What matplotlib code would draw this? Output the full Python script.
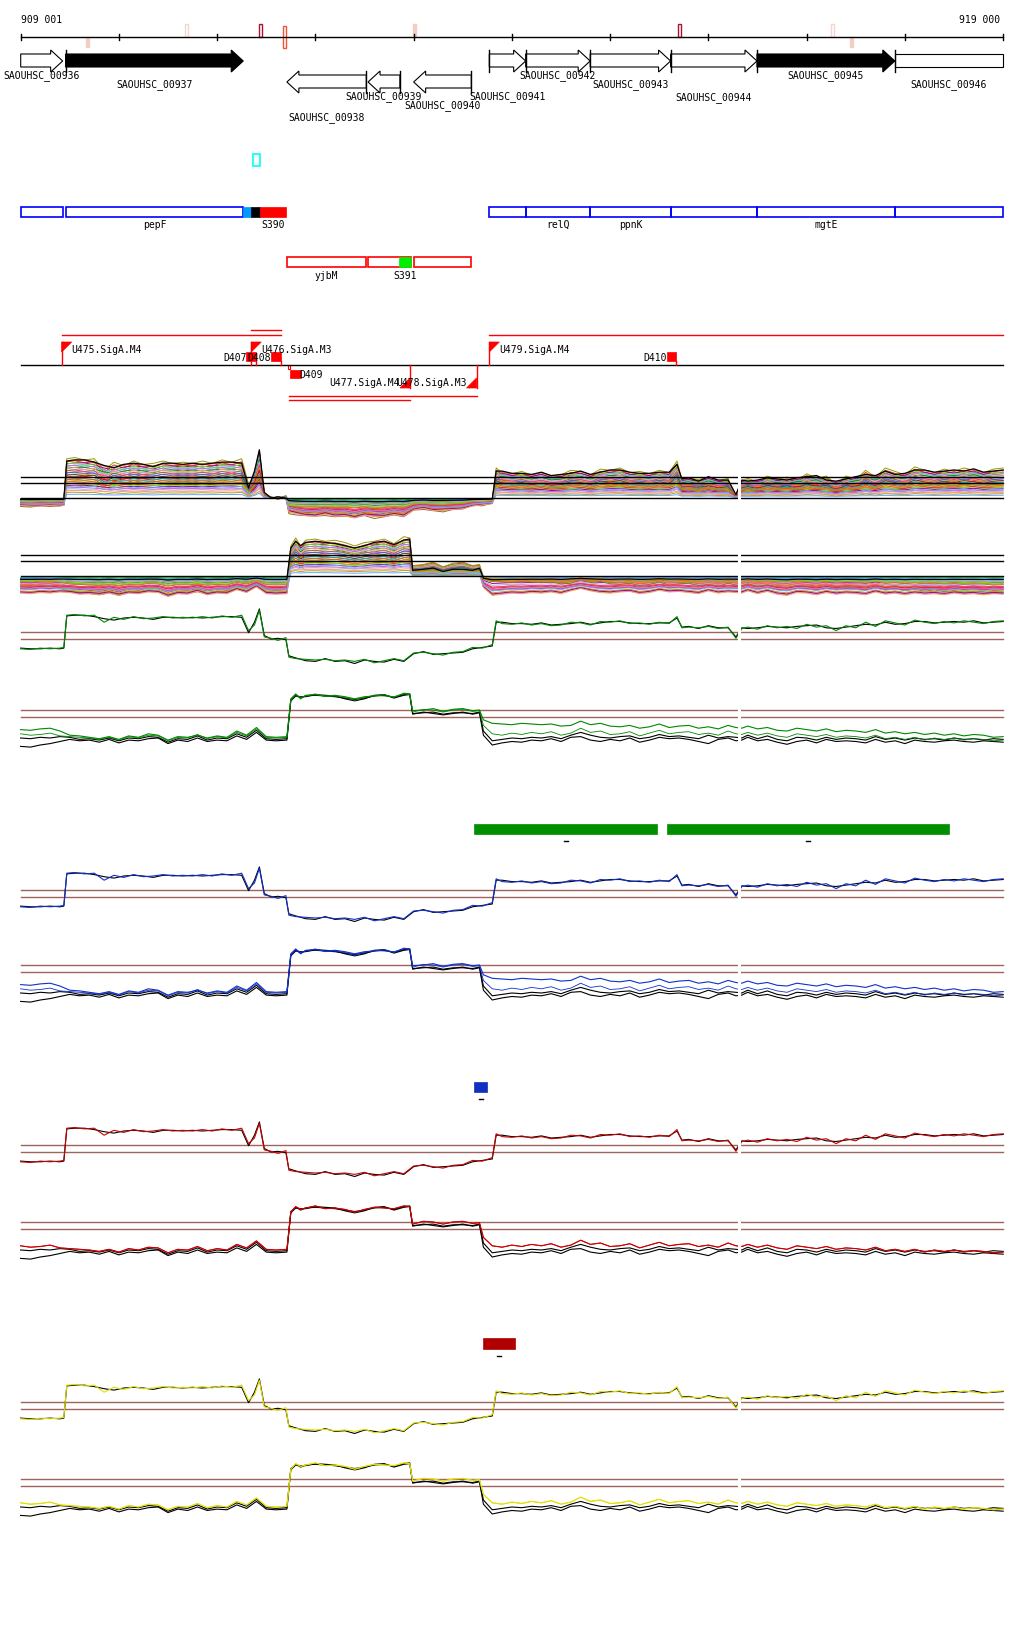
import numpy as np
import matplotlib
matplotlib.use('Agg')
import matplotlib.pyplot as plt
from matplotlib.patches import Polygon, Rectangle

# ---- data -------------------------------------------------------------
win_start, win_end = 909001, 919000
ruler_ticks = [909001, 910000, 911000, 912000, 913000, 914000, 915000,
               916000, 917000, 918000, 919000]

mark_pos = [909680, 910692, 911437, 911690, 913013, 915708, 917263, 917455]
mark_col = ['#f2cfc0', '#f4d6cc', '#aa1133', '#ee5533', '#f2cfc0', '#aa1133', '#f4d6cc', '#f2cfc0']
mark_kind = ['down', 'up', 'up', 'both', 'up', 'up', 'up', 'down']
mark_fill = [True, False, False, False, True, False, False, True]

gene_names = ['SAOUHSC_00936', 'SAOUHSC_00937', 'SAOUHSC_00938', 'SAOUHSC_00939',
              'SAOUHSC_00940', 'SAOUHSC_00941', 'SAOUHSC_00942', 'SAOUHSC_00943',
              'SAOUHSC_00944', 'SAOUHSC_00945', 'SAOUHSC_00946']
gene_start = [909001, 909458, 911710, 912536, 913000, 913770, 914140, 914797, 915615, 916494, 917897]
gene_end = [909428, 911266, 912518, 912860, 913587, 914140, 914797, 915615, 916494, 917897, 919000]
gene_strand = ['+', '+', '-', '-', '-', '+', '+', '+', '+', '+', '+']
gene_black = [False, True, False, False, False, False, False, False, False, True, False]
gene_label_row = [76, 85, 118, 97, 106, 97, 76, 85, 98, 76, 85]

# blue (forward) and red (reverse) transcript boxes
fwd_box_start = [909001, 909458, 913770, 914140, 914797, 915615, 916494, 917897]
fwd_box_end = [909428, 911266, 914140, 914797, 915615, 916494, 917897, 919000]
fwd_box_label = ['', 'pepF', '', 'relQ', 'ppnK', '', 'mgtE', '']
fwd_fill_start = [911266, 911347, 911440]
fwd_fill_end = [911347, 911440, 911700]
fwd_fill_col = ['#0099ff', '#000000', '#ff0000']
rev_box_start = [911710, 912536, 913000]
rev_box_end = [912518, 912970, 913587]
rev_box_label = ['yjbM', '', '']
rev_fill = (912850, 912970)

# promoters / terminators
tss_fwd_pos = [909418, 911347, 913770]
tss_fwd_name = ['U475.SigA.M4', 'U476.SigA.M3', 'U479.SigA.M4']
tss_rev_pos = [912963, 913640]
tss_rev_name = ['U477.SigA.M4', 'U478.SigA.M3']
term_fwd_start = [911298, 911549, 915577]
term_fwd_end = [911400, 911651, 915668]
term_fwd_name = ['D407', 'D408', 'D410']
term_rev_start = [911740]
term_rev_end = [911850]
term_rev_name = ['D409']
operon_fwd = [(909418, 911651), (913770, 919000)]
operon_fwd_short = [(911347, 911651)]
operon_rev = [(911730, 913640)]
operon_rev_short = [(911730, 912963)]

gap_pos = 916310

# expression profiles (kb from 909 000); condition 1
pos1 = [0.00, 0.10, 0.20, 0.30, 0.40, 0.44, 0.47, 0.55, 0.65, 0.75,
        0.85, 0.95, 1.05, 1.15, 1.25, 1.35, 1.45, 1.55, 1.65, 1.75,
        1.85, 1.95, 2.05, 2.15, 2.25, 2.32, 2.38, 2.43, 2.48, 2.55,
        2.62, 2.70, 2.73, 2.80, 2.90, 3.00, 3.10, 3.20, 3.30, 3.40,
        3.50, 3.60, 3.70, 3.80, 3.90, 4.00, 4.10, 4.20, 4.30, 4.40,
        4.50, 4.60, 4.70, 4.80, 4.84, 4.90, 5.00, 5.10, 5.20, 5.30,
        5.40, 5.50, 5.60, 5.70, 5.80, 5.90, 6.00, 6.10, 6.20, 6.30,
        6.40, 6.50, 6.60, 6.68, 6.73, 6.80, 6.90, 7.00, 7.10, 7.20,
        7.28, 7.34, 7.40, 7.50, 7.60, 7.70, 7.80, 7.90, 8.00, 8.10,
        8.20, 8.30, 8.40, 8.50, 8.60, 8.70, 8.80, 8.90, 9.00, 9.10,
        9.20, 9.30, 9.40, 9.50, 9.60, 9.70, 9.80, 9.90, 10.00]
c1_col = [-1.4, -1.5, -1.3, -1.4, -1.3, -1.2, 3.4, 3.5, 3.3, 3.4,
          2.4, 3.1, 2.8, 3.2, 2.9, 3.0, 3.2, 3.0, 3.1, 3.0,
          3.2, 3.0, 3.3, 3.1, 3.4, 1.2, 2.0, 4.1, 0.3, 0.1,
          -0.2, 0.2, -2.6, -2.8, -2.9, -3.0, -2.9, -3.1, -3.0, -3.2,
          -2.9, -3.4, -3.1, -2.8, -3.1, -2.0, -1.9, -2.1, -2.3, -1.9,
          -1.8, -1.2, -1.3, -0.8, 2.6, 2.2, 2.1, 2.3, 2.0, 2.2,
          1.9, 2.0, 2.4, 2.3, 2.0, 2.5, 2.4, 2.6, 2.2, 2.3,
          2.1, 2.4, 2.2, 3.2, 1.6, 1.7, 1.6, 1.8, 1.5, 1.7,
          0.1, 1.5, 1.7, 1.4, 1.9, 1.6, 1.8, 1.5, 2.1, 1.7,
          1.9, 1.2, 1.9, 1.6, 2.4, 1.8, 2.6, 2.3, 2.0, 2.7,
          2.4, 2.2, 2.5, 2.3, 2.6, 2.4, 2.2, 2.5, 2.6]
c1_blk = [-1.3, -1.4, -1.4, -1.3, -1.4, -1.3, 3.3, 3.4, 3.4, 3.2,
          2.9, 2.7, 3.0, 3.1, 3.0, 2.8, 3.1, 3.1, 3.0, 3.1,
          3.0, 3.1, 3.2, 3.2, 3.1, 0.9, 2.4, 4.3, 0.5, 0.0,
          0.1, -0.1, -2.4, -2.7, -3.1, -3.2, -2.8, -3.2, -3.1, -3.5,
          -3.0, -3.2, -3.3, -2.9, -3.2, -2.1, -1.8, -2.2, -2.1, -2.0,
          -1.9, -1.4, -1.2, -1.0, 2.4, 2.4, 2.2, 2.2, 2.1, 2.3,
          2.0, 2.1, 2.2, 2.4, 2.1, 2.3, 2.5, 2.5, 2.3, 2.2,
          2.2, 2.3, 2.3, 3.0, 1.7, 1.8, 1.5, 1.9, 1.6, 1.6,
          0.3, 1.6, 1.5, 1.6, 1.8, 1.7, 1.6, 1.8, 1.9, 2.0,
          1.6, 1.5, 1.7, 1.9, 2.1, 2.0, 2.4, 2.1, 2.2, 2.5,
          2.5, 2.3, 2.4, 2.5, 2.4, 2.6, 2.3, 2.4, 2.5]

# condition 2
pos2 = [0.00, 0.10, 0.20, 0.30, 0.40, 0.50, 0.60, 0.70, 0.80, 0.90,
        1.00, 1.10, 1.20, 1.30, 1.40, 1.50, 1.60, 1.70, 1.80, 1.90,
        2.00, 2.10, 2.20, 2.30, 2.40, 2.50, 2.60, 2.71, 2.75, 2.80,
        2.85, 2.90, 3.00, 3.10, 3.20, 3.30, 3.40, 3.50, 3.60, 3.70,
        3.80, 3.90, 3.96, 3.99, 4.10, 4.20, 4.30, 4.40, 4.50, 4.60,
        4.67, 4.71, 4.80, 4.90, 5.00, 5.10, 5.20, 5.30, 5.40, 5.50,
        5.60, 5.70, 5.80, 5.90, 6.00, 6.10, 6.20, 6.30, 6.40, 6.50,
        6.60, 6.70, 6.80, 6.90, 7.00, 7.10, 7.20, 7.28, 7.34, 7.40,
        7.50, 7.60, 7.70, 7.80, 7.90, 8.00, 8.10, 8.20, 8.30, 8.40,
        8.50, 8.60, 8.70, 8.80, 8.90, 9.00, 9.10, 9.20, 9.30, 9.40,
        9.50, 9.60, 9.70, 9.80, 9.90, 10.00]
c2_col = [-1.8, -1.9, -1.7, -1.6, -2.0, -2.6, -2.7, -2.9, -3.1, -2.8,
          -3.2, -2.7, -2.9, -2.4, -2.6, -3.3, -2.8, -2.9, -2.6, -3.0,
          -2.7, -2.9, -2.0, -2.6, -1.5, -2.8, -2.9, -2.8, 2.6, 3.3,
          2.6, 3.1, 3.2, 3.0, 3.1, 2.9, 2.6, 2.9, 3.0, 3.2,
          2.8, 3.4, 3.3, 0.9, 1.0, 1.2, 0.8, 1.1, 1.2, 0.9,
          1.0, -0.4, -0.9, -1.0, -1.1, -0.9, -1.0, -1.1, -1.0, -1.3,
          -1.2, -0.6, -1.1, -0.9, -1.3, -1.4, -1.2, -1.6, -1.4, -1.0,
          -1.5, -1.3, -1.2, -1.6, -1.4, -1.7, -1.2, -1.5, -1.6, -1.3,
          -1.7, -1.5, -1.9, -2.0, -1.6, -1.8, -2.0, -1.7, -2.1, -1.9,
          -2.0, -2.2, -1.8, -2.3, -2.1, -2.4, -2.2, -2.5, -2.3, -2.6,
          -2.4, -2.7, -2.5, -2.6, -2.9, -2.8]
c2_alt = [-2.4, -2.6, -2.5, -2.3, -2.7, -2.8, -2.9, -3.0, -3.2, -2.9,
          -3.3, -2.8, -3.0, -2.6, -2.7, -3.4, -2.9, -3.0, -2.5, -3.1,
          -2.8, -3.0, -2.2, -2.7, -1.7, -2.9, -3.0, -2.9, 2.4, 3.2,
          2.8, 3.0, 3.3, 2.9, 3.0, 2.8, 2.4, 2.8, 3.1, 3.0,
          2.9, 3.3, 3.2, 0.7, 1.1, 1.0, 0.7, 1.0, 1.1, 0.8,
          0.9, -1.2, -2.4, -2.6, -2.3, -2.5, -2.2, -2.4, -2.1, -2.6,
          -2.3, -1.6, -2.2, -2.0, -2.5, -2.4, -2.1, -2.7, -2.3, -1.9,
          -2.4, -2.2, -2.1, -2.5, -2.3, -2.6, -2.0, -2.4, -2.5, -2.2,
          -2.6, -2.3, -2.7, -2.9, -2.4, -2.6, -2.8, -2.5, -2.9, -2.7,
          -2.8, -3.0, -2.6, -3.1, -2.9, -3.2, -2.9, -3.3, -3.0, -3.2,
          -3.0, -3.3, -3.1, -3.2, -3.4, -3.3]
c2_blk = [-3.0, -3.1, -2.9, -3.0, -2.8, -2.9, -3.2, -3.1, -3.3, -3.0,
          -3.4, -3.0, -3.1, -2.8, -2.9, -3.6, -3.1, -3.2, -2.7, -3.3,
          -3.0, -3.1, -2.4, -2.9, -1.9, -3.1, -3.2, -3.1, 2.5, 3.1,
          2.7, 3.0, 3.1, 3.0, 2.9, 2.7, 2.5, 2.7, 3.0, 3.1,
          2.8, 3.2, 3.3, 0.5, 0.6, 0.7, 0.4, 0.6, 0.6, 0.5,
          0.7, -2.0, -3.4, -3.2, -3.0, -3.1, -2.9, -3.0, -2.8, -3.1,
          -2.6, -2.2, -2.6, -2.9, -3.0, -2.8, -2.7, -3.1, -2.9, -2.5,
          -2.8, -2.7, -2.9, -3.1, -2.6, -3.0, -2.8, -2.9, -3.0, -2.6,
          -3.1, -2.7, -3.2, -3.4, -2.9, -3.0, -3.3, -2.9, -3.2, -3.0,
          -3.1, -3.3, -2.8, -3.2, -3.0, -3.3, -3.0, -3.2, -3.1, -3.3,
          -3.0, -3.2, -3.1, -3.3, -3.1, -3.2]
c2_blk2 = [-4.2, -4.3, -4.0, -3.8, -3.5, -3.2, -3.4, -3.3, -3.6, -3.2,
           -3.7, -3.3, -3.4, -3.1, -3.0, -3.8, -3.3, -3.5, -3.0, -3.5,
           -3.3, -3.4, -2.7, -3.2, -2.2, -3.3, -3.4, -3.3, 2.3, 3.0,
           2.9, 2.9, 3.2, 3.1, 3.0, 2.6, 2.3, 2.6, 3.1, 3.2,
           2.7, 3.1, 3.2, 0.4, 0.7, 0.5, 0.3, 0.5, 0.7, 0.4,
           0.6, -2.6, -4.0, -3.7, -3.5, -3.6, -3.3, -3.4, -3.1, -3.5,
           -2.9, -2.8, -3.3, -3.5, -3.2, -3.4, -3.0, -3.6, -3.3, -2.9,
           -3.1, -3.0, -3.2, -3.5, -3.8, -3.2, -3.0, -3.4, -3.3, -2.9,
           -3.4, -3.2, -3.6, -3.9, -3.5, -3.3, -3.7, -3.2, -3.5, -3.4,
           -3.5, -3.7, -3.2, -3.6, -3.4, -3.8, -3.3, -3.5, -3.6, -3.4,
           -3.3, -3.5, -3.6, -3.4, -3.5, -3.6]

# per-sample levels of the many-sample tracks
sample_hi = [1.05, 1.0, 0.97, 0.94, 0.91, 0.88, 0.85, 0.82, 0.79, 0.76,
             0.73, 0.70, 0.67, 0.64, 0.61, 0.58, 0.55, 0.52, 0.49, 0.46,
             0.43, 0.40, 0.37, 0.34, 0.31, 0.28, 0.24, 0.20, 0.15, 0.1]
sample_lo = [0.1, 0.3, 0.45, 0.2, 0.5, 0.15, 0.35, 0.05, 0.4, 0.25,
             0.55, 0.3, 0.12, 0.45, 0.2, 0.38, 0.08, 0.5, 0.28, 0.15,
             0.42, 0.33, 0.22, 0.48, 0.1, 0.36, 0.18, 0.52, 0.26, 0.4]
sample_col = ['#999900', '#ff6633', '#cc3333', '#990099', '#66ee00', '#66aaff',
              '#cc66cc', '#009900', '#ff9966', '#aaaadd', '#996633', '#ff3399',
              '#3366cc', '#cc9900', '#444444', '#ff0000', '#00bbbb', '#888888',
              '#cc6600', '#999900', '#ff6633', '#cc3333', '#66ee00', '#990099',
              '#66aaff', '#cc66cc', '#aaaadd', '#ff9966', '#b0a030', '#66aaff']
black_lo = 0.1

# highlighted regions under condition tracks
green_bar_start = [913618, 915577]
green_bar_end = [915476, 918444]
blue_bar = (913618, 913749)
red_bar = (913709, 914032)

# ---- layout -----------------------------------------------------------
W, H = 1024, 1640
BPX = 9999 / 982.5          # bp per pixel
X0 = win_start - 20.7 * BPX
X1 = X0 + W * BPX
MONO = 'DejaVu Sans Mono'
FS = 7
BROWN = '#a0645f'

fig = plt.figure(figsize=(W / 100, H / 100), dpi=100, facecolor='white')
ax = fig.add_axes([0, 0, 1, 1])
ax.set_xlim(X0, X1)
ax.set_ylim(H, 0)
ax.axis('off')


def txt(x, y, s, ha='left', color='black'):
    ax.text(x, y, s, ha=ha, va='center', fontsize=FS, family=MONO, color=color)


def box(x0, x1, y0, y1, ec, fc='none', lw=1.0):
    ax.add_patch(Rectangle((x0, y0), x1 - x0, y1 - y0, ec=ec, fc=fc, lw=lw))


# ruler
ax.plot([win_start, win_end], [38, 38], color='black', lw=1)
for t in ruler_ticks:
    ax.plot([t, t], [35, 41], color='black', lw=1)
txt(win_start, 20, '909 001')
txt(win_end - 3 * BPX, 20, '919 000', ha='right')
yr = {'up': (25, 38), 'down': (38, 48), 'both': (27, 49)}
for p, c, k, f in zip(mark_pos, mark_col, mark_kind, mark_fill):
    y0, y1 = yr[k]
    box(p - 1.5 * BPX, p + 1.5 * BPX, y0, y1, ec=c, fc=c if f else 'white', lw=1)

# genes
hl = 12 * BPX
for name, s, e, st, blk, ly in zip(gene_names, gene_start, gene_end, gene_strand,
                                   gene_black, gene_label_row):
    if st == '+':
        b0, b1, h0, h1 = 55, 68, 51, 73
    else:
        b0, b1, h0, h1 = 76, 89, 72, 94
    m = (h0 + h1) / 2
    fc = 'black' if blk else 'white'
    L = min(hl, (e - s) * 0.5)
    if st == '+' and e >= win_end:
        verts = [(s, b0), (e, b0), (e, b1), (s, b1)]
    elif st == '+':
        verts = [(s, b0), (e - L, b0), (e - L, h0), (e, m), (e - L, h1), (e - L, b1), (s, b1)]
    else:
        verts = [(e, b0), (s + L, b0), (s + L, h0), (s, m), (s + L, h1), (s + L, b1), (e, b1)]
    ax.add_patch(Polygon(verts, closed=True, fc=fc, ec='black', lw=0.8))
    start = s if st == '+' else e
    if start > win_start:
        ax.plot([start, start], [h0, h1], color='black', lw=1)
    txt((s + e) / 2, ly, name, ha='center')

# small cyan feature
box(911368, 911440, 155, 167, ec='#00ffff', lw=1.2)

# forward transcript boxes
for s, e, lab in zip(fwd_box_start, fwd_box_end, fwd_box_label):
    box(s, e, 208, 218, ec='#0000ff', lw=1.2)
    if lab:
        txt((s + e) / 2, 225, lab, ha='center')
for s, e, c in zip(fwd_fill_start, fwd_fill_end, fwd_fill_col):
    box(s, e, 208, 218, ec=c, fc=c, lw=0.5)
txt(fwd_fill_end[-1] - 1.5 * BPX, 225, 'S390', ha='right')

# reverse transcript boxes
for s, e, lab in zip(rev_box_start, rev_box_end, rev_box_label):
    box(s, e, 258, 268, ec='#ff0000', lw=1.2)
    if lab:
        txt((s + e) / 2, 276, lab, ha='center')
box(rev_fill[0], rev_fill[1], 258, 268, ec='#00ee00', fc='#00ee00', lw=0.5)
txt((rev_fill[0] + rev_fill[1]) / 2, 276, 'S391', ha='center')

# promoter / terminator track
RED = '#ff0000'
ax.plot([win_start, win_end], [366, 366], color='black', lw=1)
for s, e in operon_fwd:
    ax.plot([s, e], [336, 336], color=RED, lw=1)
for s, e in operon_fwd_short:
    ax.plot([s, e], [331, 331], color=RED, lw=1)
for s, e in operon_rev:
    ax.plot([s, e], [397, 397], color=RED, lw=1)
for s, e in operon_rev_short:
    ax.plot([s, e], [401, 401], color=RED, lw=1)
for p, n in zip(tss_fwd_pos, tss_fwd_name):
    ax.plot([p, p], [343, 366], color=RED, lw=1)
    ax.add_patch(Polygon([(p, 343), (p + 10 * BPX, 343), (p, 353)], fc=RED, ec=RED, lw=0.5))
    txt(p + 10 * BPX, 350, n)
for p, n in zip(tss_rev_pos, tss_rev_name):
    ax.plot([p, p], [366, 389], color=RED, lw=1)
    ax.add_patch(Polygon([(p, 389), (p - 10 * BPX, 389), (p, 379)], fc=RED, ec=RED, lw=0.5))
    txt(p - 10 * BPX, 383, n, ha='right')
for s, e, n in zip(term_fwd_start, term_fwd_end, term_fwd_name):
    box(s, e, 353, 362, ec=RED, fc=RED, lw=0.5)
    ax.plot([e, e], [362, 366], color=RED, lw=1)
    txt(s, 358, n, ha='right')
for s, e, n in zip(term_rev_start, term_rev_end, term_rev_name):
    box(s, e, 371, 379, ec=RED, fc=RED, lw=0.5)
    box(s - 2 * BPX, s, 366, 370, ec=RED, lw=0.8)
    txt(e - 1 * BPX, 375, n)


# ---- data tracks ------------------------------------------------------
def track_ax(y0, s, lo=-6, hi=6):
    top = y0 - hi * s
    bot = y0 - lo * s
    a = fig.add_axes([0, 1 - bot / H, 1, (bot - top) / H])
    a.set_xlim(X0, X1)
    a.set_ylim(lo, hi)
    a.axis('off')
    a.patch.set_alpha(0)
    return a


def bp(pos):
    return 909000 + np.array(pos) * 1000


x1 = bp(pos1)
x2 = bp(pos2)

# many-sample tracks
for y0, xs, bases in [(499, x1, [c1_col, c1_blk]), (577, x2, [c2_col, c2_blk])]:
    s = 11
    a = track_ax(y0, s, -4, 5)
    for lvl in [0, 15, 21]:
        a.plot([win_start, win_end], [lvl / s] * 2, color='black', lw=1, zorder=3)
    for i, (fh, fl, c) in enumerate(zip(sample_hi, sample_lo, sample_col)):
        base = np.array(bases[i % 2])
        vals = np.where(base > 0, base * fh, base * fl)
        a.plot(xs, vals, color=c, lw=0.7, zorder=2)
    kb = np.array(bases[1])
    a.plot(xs, np.where(kb > 0, kb * 1.02, kb * black_lo), color='black', lw=0.9, zorder=4)
    a.axvline(gap_pos, color='white', lw=2.2, zorder=6)

track_colours = {'green': '#008800', 'blue': '#1030cc', 'red': '#cc0000', 'yellow': '#e0e000'}
line_tracks = [(640, 1, 'green'), (718, 2, 'green'), (898, 1, 'blue'), (973, 2, 'blue'),
               (1153, 1, 'red'), (1230, 2, 'red'), (1410, 1, 'yellow'), (1487, 2, 'yellow')]
for y0, cond, cname in line_tracks:
    col = track_colours[cname]
    a = track_ax(y0, 7)
    a.plot([win_start, win_end], [0, 0], color=BROWN, lw=1, zorder=1)
    a.plot([win_start, win_end], [1, 1], color=BROWN, lw=1, zorder=1)
    if cond == 1:
        a.plot(x1, c1_blk, color='black', lw=0.8, zorder=2)
        a.plot(x1, c1_col, color=col, lw=0.8, zorder=3)
    else:
        a.plot(x2, c2_blk, color='black', lw=0.8, zorder=2)
        a.plot(x2, c2_blk2, color='black', lw=0.8, zorder=2)
        a.plot(x2, c2_col if cname in ('green', 'blue') else c2_alt, color=col, lw=0.8, zorder=3)
        a.plot(x2, c2_alt, color=col, lw=0.6, zorder=3)
    a.axvline(gap_pos, color='white', lw=2.2, zorder=6)

# highlighted regions
for s, e in zip(green_bar_start, green_bar_end):
    box(s, e, 825, 835, ec='#008f00', fc='#008f00', lw=0.5)
    ax.plot([(s + e) / 2 - 2 * BPX, (s + e) / 2 + 2 * BPX], [842, 842], color='black', lw=1)
box(blue_bar[0], blue_bar[1], 1083, 1093, ec='#1030c0', fc='#1030c0', lw=0.5)
bc = sum(blue_bar) / 2
ax.plot([bc - 2 * BPX, bc + 2 * BPX], [1100, 1100], color='black', lw=1)
box(red_bar[0], red_bar[1], 1339, 1350, ec='#b00000', fc='#b00000', lw=0.5)
rc = sum(red_bar) / 2
ax.plot([rc - 2 * BPX, rc + 2 * BPX], [1357, 1357], color='black', lw=1)

fig.savefig('out.png', dpi=100, facecolor='white')
